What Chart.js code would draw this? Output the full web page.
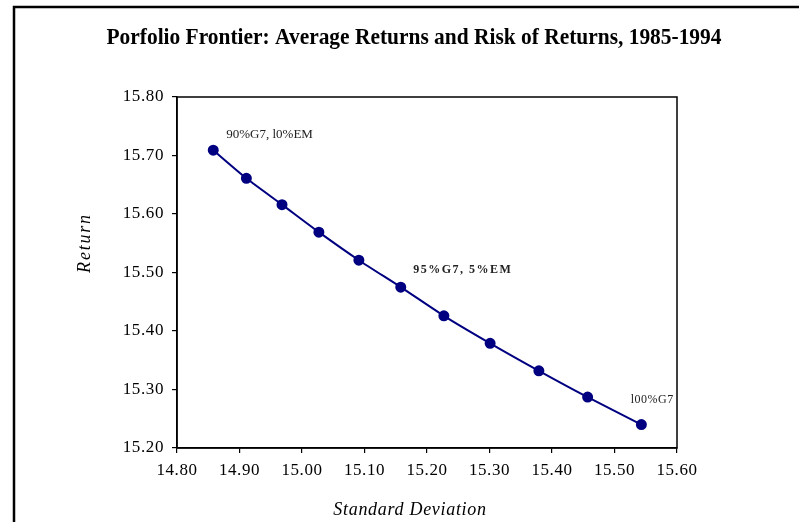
<!DOCTYPE html>
<html>
<head>
<meta charset="utf-8">
<script src="https://cdn.jsdelivr.net/npm/chart.js@4"></script>
<style>
  html, body { margin: 0; padding: 0; background: #fff; }
  #wrap { width: 799px; height: 522px; position: relative; }
</style>
</head>
<body>
<div id="wrap"><canvas id="c" width="799" height="522"></canvas></div>
<script>
// ---- data ----
const stdDev  = [14.858, 14.911, 14.968, 15.027, 15.091, 15.158, 15.227, 15.301, 15.379, 15.457, 15.543];
const returns = [15.709, 15.661, 15.616, 15.569, 15.521, 15.475, 15.426, 15.379, 15.332, 15.287, 15.240];
const xTicks  = [14.80, 14.90, 15.00, 15.10, 15.20, 15.30, 15.40, 15.50, 15.60];
const yTicks  = [15.20, 15.30, 15.40, 15.50, 15.60, 15.70, 15.80];
const pointLabelIndex = [0, 5, 10];
const pointLabelText  = ['90%G7, l0%EM', '95%G7, 5%EM', 'l00%G7'];
const chartTitle = 'Porfolio Frontier: Average Returns and Risk of Returns, 1985-1994';
const xTitle = 'Standard Deviation';
const yTitle = 'Return';

const SERIF = '"Liberation Serif", "Times New Roman", serif';
const NAVY = '#000080';

const points = stdDev.map((x, i) => ({ x: x, y: returns[i] }));

const decorPlugin = {
  id: 'decor',
  beforeDraw(chart) {
    const ctx = chart.ctx;
    ctx.save();
    ctx.fillStyle = '#fff';
    ctx.fillRect(0, 0, chart.width, chart.height);
    // outer frame
    ctx.strokeStyle = '#000';
    ctx.lineWidth = 2.5;
    ctx.strokeRect(14, 7, 800, 530);
    // title (condensed)
    ctx.fillStyle = '#000';
    ctx.font = 'bold 24px ' + SERIF;
    ctx.textBaseline = 'alphabetic';
    const w = ctx.measureText(chartTitle).width;
    const target = 615;
    ctx.translate(414, 43.5);
    ctx.scale(target / w, 1);
    ctx.textAlign = 'center';
    ctx.fillText(chartTitle, 0, 0);
    ctx.restore();
    // slight tracking for the tick labels drawn next by the scales
    try { ctx.letterSpacing = '0.6px'; } catch (e) {}
  },
  afterDraw(chart) {
    const ctx = chart.ctx;
    const a = chart.chartArea;
    ctx.save();
    ctx.strokeStyle = '#000';
    ctx.lineWidth = 1.5;
    ctx.strokeRect(a.left, a.top, a.right - a.left, a.bottom - a.top);
    // axis titles
    ctx.fillStyle = '#000';
    ctx.font = 'italic 18px ' + SERIF;
    ctx.textAlign = 'center';
    ctx.textBaseline = 'middle';
    try { ctx.letterSpacing = '0.7px'; } catch (e) {}
    ctx.fillText(xTitle, 410, 510);
    ctx.save();
    ctx.translate(85, 243);
    ctx.rotate(-Math.PI / 2);
    try { ctx.letterSpacing = '1.8px'; } catch (e) {}
    ctx.fillText(yTitle, 0, 0);
    ctx.restore();
    // point labels
    const meta = chart.getDatasetMeta(0);
    const styles = [
      { font: '13px ' + SERIF, ls: '0px', dx: 13, dy: -16 },
      { font: 'bold 12px ' + SERIF, ls: '1.5px', dx: 12.5, dy: -17 },
      { font: '12px ' + SERIF, ls: '0.5px', dx: -10.7, dy: -25 }
    ];
    pointLabelIndex.forEach((idx, k) => {
      const el = meta.data[idx];
      const s = styles[k];
      ctx.font = s.font;
      try { ctx.letterSpacing = s.ls; } catch (e) {}
      ctx.textAlign = 'left';
      ctx.textBaseline = 'middle';
      ctx.fillStyle = '#222';
      ctx.fillText(pointLabelText[k], el.x + s.dx, el.y + s.dy);
    });
    ctx.restore();
    try { ctx.letterSpacing = '0px'; } catch (e) {}
  }
};

new Chart(document.getElementById('c'), {
  type: 'scatter',
  data: {
    datasets: [{
      data: points,
      showLine: true,
      borderColor: NAVY,
      backgroundColor: NAVY,
      borderWidth: 2,
      pointRadius: 4.5,
      pointHoverRadius: 4.5,
      pointBackgroundColor: NAVY,
      pointBorderColor: NAVY,
      tension: 0.25
    }]
  },
  options: {
    responsive: false,
    animation: false,
    devicePixelRatio: 1,
    layout: { padding: { left: 0, right: 122, top: 97, bottom: 0 } },
    plugins: {
      legend: { display: false },
      title: { display: false },
      tooltip: { enabled: false }
    },
    scales: {
      x: {
        type: 'linear',
        min: xTicks[0],
        max: xTicks[xTicks.length - 1],
        afterBuildTicks(scale) { scale.ticks = xTicks.map(v => ({ value: v })); },
        afterFit(scale) { scale.height = 74; },
        ticks: {
          color: '#000',
          font: { family: SERIF, size: 17 },
          padding: 7,
          maxRotation: 0,
          autoSkip: false,
          callback: v => Number(v).toFixed(2)
        },
        grid: { drawOnChartArea: false, drawTicks: true, tickLength: 5, color: '#000', lineWidth: 1.2 },
        border: { display: true, color: '#000', width: 1.5 }
      },
      y: {
        type: 'linear',
        min: yTicks[0],
        max: yTicks[yTicks.length - 1],
        afterBuildTicks(scale) { scale.ticks = yTicks.map(v => ({ value: v })); },
        afterFit(scale) { scale.width = 177; },
        ticks: {
          color: '#000',
          font: { family: SERIF, size: 17 },
          padding: 8,
          autoSkip: false,
          callback: v => Number(v).toFixed(2)
        },
        grid: { drawOnChartArea: false, drawTicks: true, tickLength: 5, color: '#000', lineWidth: 1.2 },
        border: { display: true, color: '#000', width: 1.5 }
      }
    }
  },
  plugins: [decorPlugin]
});
</script>
</body>
</html>
